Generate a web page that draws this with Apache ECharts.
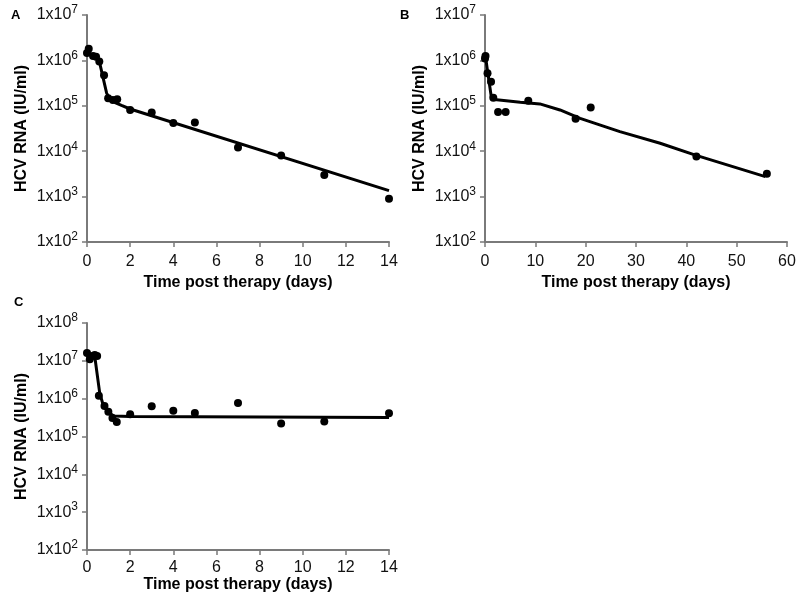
<!DOCTYPE html>
<html>
<head>
<meta charset="utf-8">
<script src="https://cdn.jsdelivr.net/npm/echarts@6/dist/echarts.min.js"></script>
<style>
html,body{margin:0;padding:0;background:#fff;}
#chart{width:800px;height:604px;}
</style>
</head>
<body>
<div id="chart"></div>
<script>
// Panel A data
const tA = [0, 0.08, 0.28, 0.42, 0.57, 0.79, 0.98, 1.2, 1.4, 2, 3, 4, 5, 7, 9, 11, 14];
const vA = [1.45e6, 1.8e6, 1.25e6, 1.2e6, 9.5e5, 4.7e5, 1.47e5, 1.35e5, 1.4e5, 8.1e4, 7.1e4, 4.2e4, 4.3e4, 1.2e4, 8e3, 3e3, 900];
const fitTA = [0, 0.44, 0.59, 0.91, 1.07, 1.3, 1.6, 2, 14];
const fitVA = [1.55e6, 1.17e6, 8.7e5, 1.9e5, 1.38e5, 1.18e5, 1.02e5, 8.5e4, 1.35e3];
// Panel B data
const tB = [0, 0.1, 0.5, 1.2, 1.65, 2.6, 4.1, 8.6, 18, 21, 42, 56];
const vB = [1.1e6, 1.25e6, 5.2e5, 3.4e5, 1.5e5, 7.3e4, 7.3e4, 1.3e5, 5.2e4, 9.2e4, 7.6e3, 3.2e3];
const fitTB = [0, 0.66, 1.3, 1.85, 7, 10.9, 14.9, 18.9, 26.8, 34.8, 41.8, 55.7];
const fitVB = [1.45e6, 4.4e5, 1.45e5, 1.38e5, 1.2e5, 1.1e5, 8.1e4, 5.3e4, 2.7e4, 1.5e4, 8.2e3, 2.75e3];
// Panel C data
const tC = [0, 0.13, 0.25, 0.36, 0.47, 0.55, 0.81, 0.99, 1.18, 1.38, 2, 3, 4, 5, 7, 9, 11, 14];
const vC = [1.6e7, 1.1e7, 1.35e7, 1.42e7, 1.35e7, 1.2e6, 6.4e5, 4.5e5, 3.1e5, 2.4e5, 3.9e5, 6.3e5, 4.8e5, 4.2e5, 7.7e5, 2.2e5, 2.5e5, 4.1e5];
const fitTC = [0, 0.36, 0.59, 0.75, 1.0, 1.25, 2, 14];
const fitVC = [1.3e7, 1.3e7, 1.4e6, 6.8e5, 4.3e5, 3.5e5, 3.4e5, 3.2e5];

const panelLabels = ['A', 'B', 'C'];
const yTitle = 'HCV RNA (IU/ml)';
const xTitle = 'Time post therapy (days)';

const zip = (a, b) => a.map((x, i) => [x, b[i]]);
const FONT = '"Liberation Sans", Arial, sans-serif';
const axisColor = '#7a7a7a';

function xAxis(gi, max, interval, margin, gap) {
  return {
    gridIndex: gi, type: 'value', min: 0, max: max, interval: interval,
    name: xTitle, nameLocation: 'middle', nameGap: gap,
    nameTextStyle: { fontFamily: FONT, fontSize: 16, fontWeight: 'bold', color: '#000' },
    axisLine: { show: true, onZero: false, lineStyle: { color: axisColor, width: 2 } },
    axisTick: { show: true, length: 5, lineStyle: { color: axisColor, width: 1.5 } },
    axisLabel: { fontFamily: FONT, fontSize: 16, color: '#111', margin: margin },
    splitLine: { show: false }
  };
}
function yAxis(gi, max) {
  return {
    gridIndex: gi, type: 'log', logBase: 10, min: 100, max: max,
    name: yTitle, nameLocation: 'middle', nameGap: 57, nameRotate: 90,
    nameTextStyle: { fontFamily: FONT, fontSize: 16, fontWeight: 'bold', color: '#000' },
    axisLine: { show: true, onZero: false, lineStyle: { color: axisColor, width: 2 } },
    axisTick: { show: true, length: 5, lineStyle: { color: axisColor, width: 1.5 } },
    axisLabel: {
      fontFamily: FONT, fontSize: 16, color: '#111', margin: 9,
      formatter: v => '{b|1x10}{s|' + Math.round(Math.log10(v)) + '}',
      rich: {
        b: { fontFamily: FONT, fontSize: 16, color: '#111' },
        s: { fontFamily: FONT, fontSize: 12, color: '#111', padding: [0, 0, 10, 0] }
      }
    },
    splitLine: { show: false }
  };
}
function scatter(gi, t, v) {
  return { type: 'scatter', xAxisIndex: gi, yAxisIndex: gi, data: zip(t, v),
    symbol: 'circle', symbolSize: 8, itemStyle: { color: '#000', opacity: 1 }, clip: false, z: 3 };
}
function line(gi, t, v) {
  return { type: 'line', xAxisIndex: gi, yAxisIndex: gi, data: zip(t, v),
    showSymbol: false, symbol: 'none', lineStyle: { color: '#000', width: 3 }, clip: false, z: 2 };
}

const chart = echarts.init(document.getElementById('chart'), null, { renderer: 'canvas' });
chart.setOption({
  animation: false,
  backgroundColor: '#fff',
  title: [
    { text: panelLabels[0], left: 6, top: 4, textStyle: { fontFamily: FONT, fontSize: 13, fontWeight: 'bold', color: '#000' } },
    { text: panelLabels[1], left: 395, top: 4, textStyle: { fontFamily: FONT, fontSize: 13, fontWeight: 'bold', color: '#000' } },
    { text: panelLabels[2], left: 9, top: 291, textStyle: { fontFamily: FONT, fontSize: 13, fontWeight: 'bold', color: '#000' } }
  ],
  grid: [
    { left: 87, top: 15, width: 302, height: 227 },
    { left: 485, top: 15, width: 302, height: 227 },
    { left: 87, top: 323, width: 302, height: 227 }
  ],
  xAxis: [xAxis(0, 14, 2, 12, 33), xAxis(1, 60, 10, 12, 33), xAxis(2, 14, 2, 10, 27)],
  yAxis: [yAxis(0, 1e7), yAxis(1, 1e7), yAxis(2, 1e8)],
  series: [
    line(0, fitTA, fitVA), scatter(0, tA, vA),
    line(1, fitTB, fitVB), scatter(1, tB, vB),
    line(2, fitTC, fitVC), scatter(2, tC, vC)
  ]
});
</script>
</body>
</html>
